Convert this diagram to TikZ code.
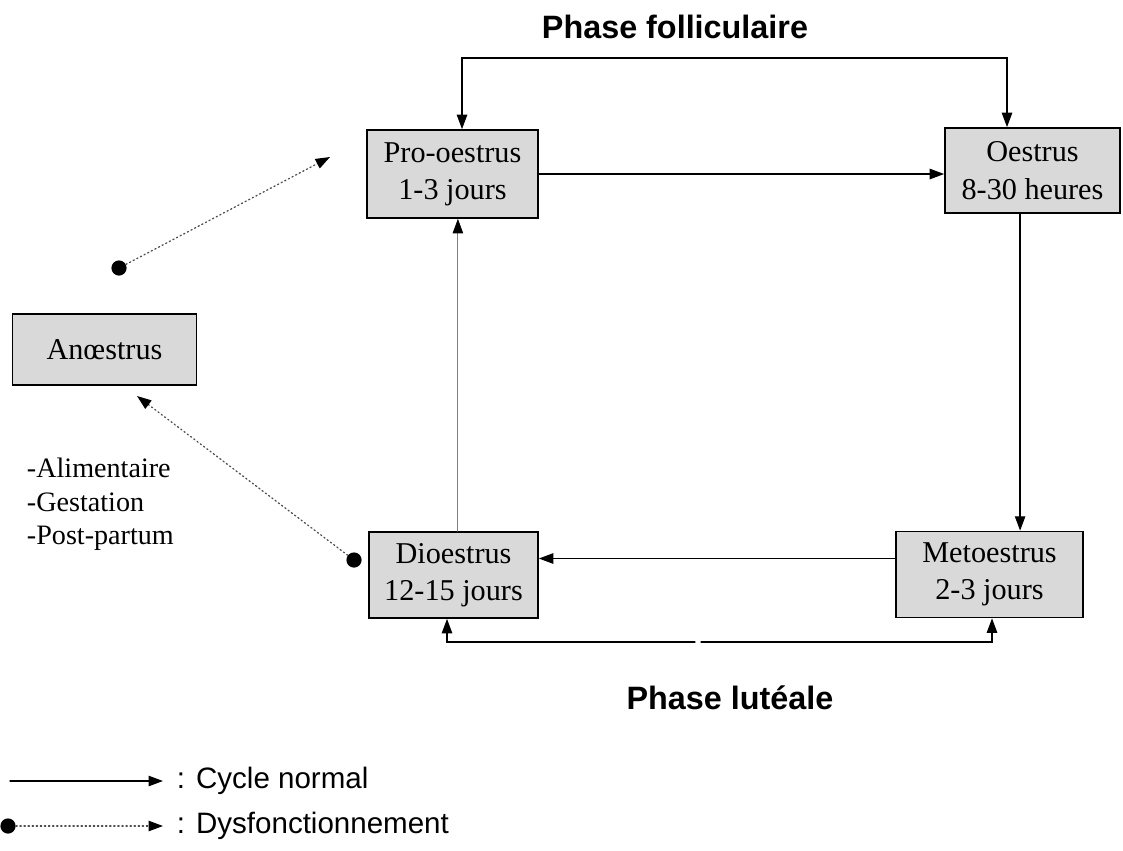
\documentclass[tikz,border=0pt]{standalone}
\usepackage{fontspec}
\setmainfont{Liberation Serif}
\setsansfont{Liberation Sans}
\usetikzlibrary{arrows.meta}

\begin{document}
\begin{tikzpicture}[x=0.025cm,y=-0.025cm,>={Triangle[length=3.6mm,width=2.6mm]},line cap=round,
  phase/.style={draw=black,line width=1.2pt,fill=gray!30,align=center,inner sep=0pt,
    font=\fontsize{21.5}{26.5}\selectfont},
  cyc/.style={->,line width=0.9pt},
  dys/.style={-{Triangle[length=3.6mm,width=2.6mm,black]},dotted,line width=0.9pt,gray!60!black},
  dot/.style={circle,fill=black,inner sep=0pt,minimum size=0.38cm},
  lab/.style={font=\sffamily\bfseries\fontsize{23}{27}\selectfont},
  leg/.style={font=\sffamily\fontsize{21}{25}\selectfont,anchor=west}]
\useasboundingbox (0,0) rectangle (1123,850);
% etats du cycle
\node[phase,minimum width=4.275cm,minimum height=2.2cm] (pro) at (452.5,174) {Pro-oestrus\\1-3 jours};
\node[phase,minimum width=4.375cm,minimum height=2.125cm] (oes) at (1032.5,170.5) {Oestrus\\8-30 heures};
\node[phase,minimum width=4.225cm,minimum height=2.15cm] (dio) at (453.5,575) {Dioestrus\\12-15 jours};
\node[phase,minimum width=4.675cm,minimum height=2.15cm] (met) at (989.5,574.5) {Metoestrus\\2-3 jours};
\node[phase,minimum width=4.6cm,minimum height=1.775cm] (ano) at (104.5,349.5) {Anœstrus};
% cycle normal
\draw[cyc] (pro.east) -- (pro.east -| oes.west);
\draw[cyc] ([xshift=-0.31cm]oes.south) -- ([xshift=-0.31cm]oes.south |- met.north);
\draw[cyc] ([yshift=0.4cm]met.west) -- ([yshift=0.4cm]met.west -| dio.east);
\draw[-{Triangle[length=3.6mm,width=2.6mm,black]},gray,line width=0.6pt] ([xshift=0.11cm]dio.north) -- ([xshift=0.11cm]dio.north |- pro.south);
% phases
\coordinate (fl) at (462,58);
\coordinate (fr) at (1007,58);
\draw[<->,line width=0.9pt] (pro.north -| fl) -- (fl) -- (fr) -- (oes.north -| fr);
\node[lab] (pf) at (675,27) {Phase folliculaire};
\coordinate (ll) at (447,642);
\coordinate (lr) at (992,642);
\draw[<-,line width=0.9pt] (dio.south -| ll) -- (ll) -- (695,642);
\draw[->,line width=0.9pt] (701,642) -- (lr) -- (met.south -| lr);
\node[lab] (pl) at (730,698) {Phase lutéale};
% dysfonctionnements
\node[dot] (d1) at (119,268) {};
\coordinate (t1) at (330,157);
\draw[dys] (d1) -- (t1);
\node[dot] (d2) at (354,560) {};
\coordinate (t2) at (137,396);
\draw[dys] (d2) -- (t2);
\node[font=\fontsize{20}{24}\selectfont,align=left,anchor=north west] (cause) at (22,453)
  {-Alimentaire\\-Gestation\\-Post-partum};
% legende
\coordinate (a1) at (10,781);
\coordinate (a2) at (163,781);
\draw[cyc] (a1) -- (a2);
\node[leg] (l1) at (172,781) {: Cycle normal};
\node[dot] (d3) at (8,826) {};
\coordinate (a3) at (163,826);
\draw[dys] (d3) -- (a3);
\node[leg] (l2) at (172,826) {: Dysfonctionnement};
\end{tikzpicture}
\end{document}
